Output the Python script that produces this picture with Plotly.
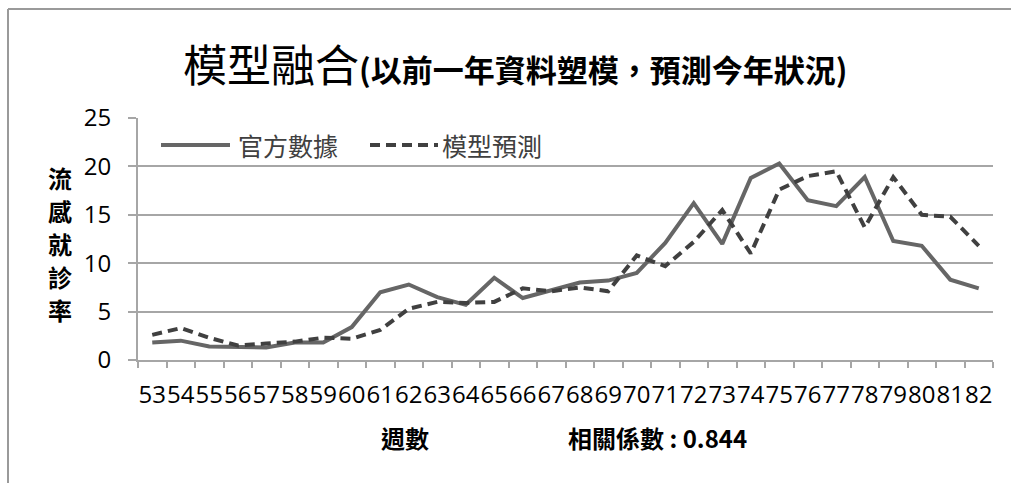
import plotly.graph_objects as go

# Weekly influenza consultation rate: official figures vs. model forecast
weeks = [str(w) for w in range(53, 83)]
official = [1.8, 2.0, 1.4, 1.3, 1.3, 1.8, 1.8, 3.4, 7.0, 7.8, 6.5, 5.7, 8.5, 6.4,
            7.2, 8.0, 8.2, 9.0, 12.1, 16.2, 12.0, 18.8, 20.3, 16.5, 15.9, 18.9,
            12.3, 11.8, 8.3, 7.4]
forecast = [2.6, 3.3, 2.3, 1.5, 1.7, 1.9, 2.3, 2.2, 3.1, 5.3, 6.0, 5.9, 6.0, 7.4,
            7.1, 7.5, 7.1, 10.8, 9.7, 12.2, 15.5, 11.0, 17.6, 19.0, 19.5, 13.7,
            18.9, 15.0, 14.8, 11.8]

series_names = ["官方數據", "模型預測"]
title_main = "模型融合"
title_sub = "(以前一年資料塑模，預測今年狀況)"
y_title = "流感就診率"
x_title = "週數"
corr_text = "相關係數 : 0.844"

W, H = 1011, 483
L, R, T, B = 138, 18, 118, 123
PW, PH = W - L - R, H - T - B

def px(x):
    return (x - L) / PW

def py(y):
    return (H - B - y) / PH

CJK = "Noto Sans CJK TC"
NUM = "Open Sans"
GRID = "#A6A6A6"
SOLID_C = "#666666"
DASH_C = "#404040"
DASH = "10px,6px"

fig = go.Figure()
fig.add_trace(go.Scatter(x=weeks, y=official, mode="lines", name=series_names[0],
                         line=dict(color=SOLID_C, width=4), showlegend=False))
fig.add_trace(go.Scatter(x=weeks, y=forecast, mode="lines", name=series_names[1],
                         line=dict(color=DASH_C, width=4, dash=DASH), showlegend=False))

shapes = [
    # outer chart frame (top and left edges)
    dict(type="line", xref="paper", yref="paper", x0=px(8), x1=px(W), y0=py(9), y1=py(9),
         line=dict(color="#9A9A9A", width=2)),
    dict(type="line", xref="paper", yref="paper", x0=px(8), x1=px(8), y0=py(9), y1=py(H),
         line=dict(color="#9A9A9A", width=2)),
    # legend keys
    dict(type="line", xref="paper", yref="paper", x0=px(161), x1=px(230), y0=py(145), y1=py(145),
         line=dict(color=SOLID_C, width=4)),
    dict(type="line", xref="paper", yref="paper", x0=px(370), x1=px(438), y0=py(145), y1=py(145),
         line=dict(color=DASH_C, width=4, dash=DASH)),
]

annotations = [
    dict(text=title_main + "<span style='font-size:31px'><b>" + title_sub + "</b></span>",
         xref="paper", yref="paper", x=px(515), y=py(63), xanchor="center", yanchor="middle",
         showarrow=False, font=dict(family=CJK, size=44, color="#000000")),
    dict(text=series_names[0], xref="paper", yref="paper", x=px(236), y=py(145),
         xanchor="left", yanchor="middle", showarrow=False,
         font=dict(family=CJK, size=25, color="#404040")),
    dict(text=series_names[1], xref="paper", yref="paper", x=px(440), y=py(145),
         xanchor="left", yanchor="middle", showarrow=False,
         font=dict(family=CJK, size=25, color="#404040")),
    dict(text="<b>" + x_title + "</b>", xref="paper", yref="paper", x=px(405), y=py(437),
         xanchor="center", yanchor="middle", showarrow=False,
         font=dict(family=CJK, size=24, color="#000000")),
    dict(text="<b>" + corr_text + "</b>", xref="paper", yref="paper", x=px(566), y=py(437),
         xanchor="left", yanchor="middle", showarrow=False,
         font=dict(family=CJK, size=24, color="#000000")),
]

# vertical axis title, one character per row
for i, ch in enumerate(y_title):
    annotations.append(dict(text="<b>" + ch + "</b>", xref="paper", yref="paper",
                            x=px(60), y=py(177 + 33 * i), xanchor="center", yanchor="middle",
                            showarrow=False, font=dict(family=CJK, size=24, color="#000000")))

fig.update_layout(
    width=W, height=H, autosize=False,
    margin=dict(l=L, r=R, t=T, b=B, pad=0),
    paper_bgcolor="white", plot_bgcolor="white",
    shapes=shapes, annotations=annotations,
    xaxis=dict(type="category", range=[-0.5, 29.5], showgrid=False,
               tickmode="array", tickvals=weeks, ticktext=weeks, tickangle=0,
               showline=True, linecolor=GRID, linewidth=2,
               ticks="outside", tickson="boundaries", ticklen=6, tickcolor=GRID, tickwidth=1.5,
               ticklabelstandoff=12,
               tickfont=dict(family=NUM, size=24, color="#000000")),
    yaxis=dict(range=[0, 25], dtick=5, showgrid=True, gridcolor=GRID, gridwidth=2,
               showline=True, linecolor=GRID, linewidth=2, zeroline=False,
               ticks="outside", ticklen=8, tickcolor=GRID, tickwidth=1.5, ticklabelstandoff=12,
               tickfont=dict(family=NUM, size=24, color="#000000")),
)

fig.write_html("out.html")
